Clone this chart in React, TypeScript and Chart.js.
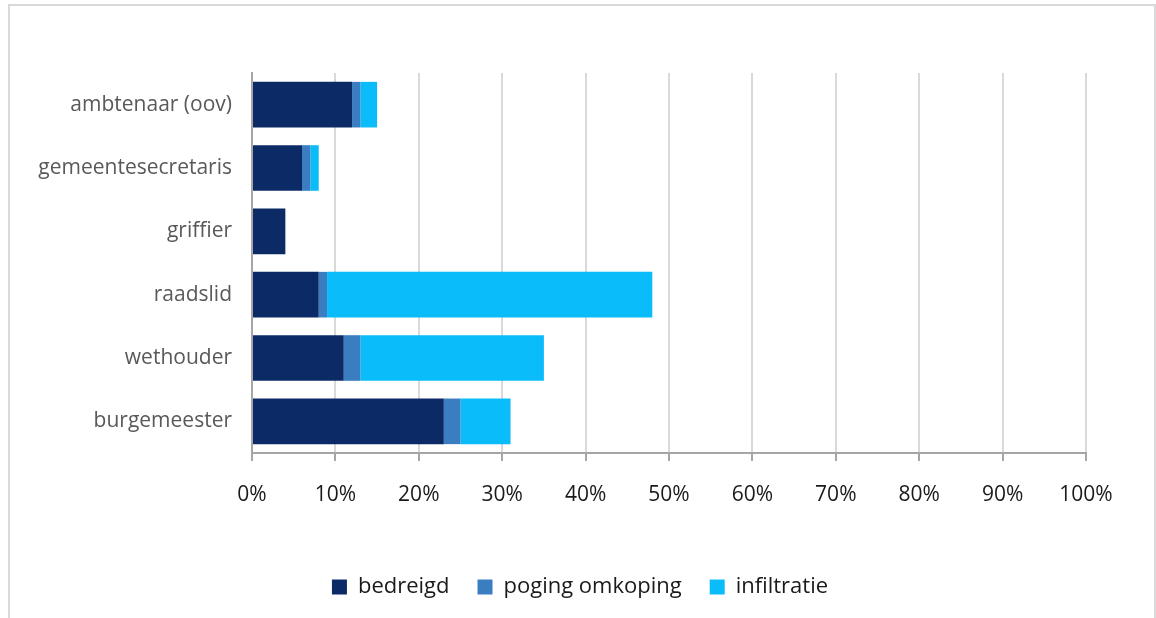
import React, { useEffect, useRef } from "react";
import { Chart, registerables } from "chart.js";

Chart.register(...registerables);

const categories = ["ambtenaar (oov)", "gemeentesecretaris", "griffier", "raadslid", "wethouder", "burgemeester"];
const bedreigd = [12, 6, 4, 8, 11, 23];
const pogingOmkoping = [1, 1, 0, 1, 2, 2];
const infiltratie = [2, 1, 0, 39, 22, 6];
const seriesNames = ["bedreigd", "poging omkoping", "infiltratie"];
const seriesColors = ["#0C2A66", "#3A7DC0", "#0ABCFA"];
const xTicks = [0, 10, 20, 30, 40, 50, 60, 70, 80, 90, 100];

const FONT = "'Open Sans', Lato, sans-serif";

const shiftLegend = {
  id: "shiftLegend",
  afterLayout(chart: any) {
    const l = chart.legend;
    if (l) {
      l.left += 32;
      l.right += 32;
    }
  },
};

export default function App() {
  const ref = useRef<HTMLCanvasElement | null>(null);
  useEffect(() => {
    if (!ref.current) return;
    const chart = new Chart(ref.current, {
      type: "bar",
      data: {
        labels: categories,
        datasets: [bedreigd, pogingOmkoping, infiltratie].map((d, i) => ({
          label: seriesNames[i],
          data: d,
          backgroundColor: seriesColors[i],
          borderWidth: 0,
          barPercentage: 0.72,
          categoryPercentage: 1,
        })),
      },
      plugins: [shiftLegend],
      options: {
        indexAxis: "y",
        animation: false,
        responsive: false,
        maintainAspectRatio: false,
        layout: { padding: { top: 67, right: 66, left: 0, bottom: 10 } },
        scales: {
          x: {
            stacked: true,
            min: 0,
            max: 100,
            afterBuildTicks: (scale: any) => {
              scale.ticks = xTicks.map((v) => ({ value: v }));
            },
            afterFit: (scale: any) => {
              scale.height = 95;
            },
            ticks: {
              callback: (v: any) => v + "%",
              color: "#1a1a1a",
              font: { family: FONT, size: 21 },
              padding: 21,
              maxRotation: 0,
            },
            grid: {
              color: "#d9d9d9",
              lineWidth: 2,
              tickColor: "#a6a6a6",
              tickLength: 8,
              drawTicks: true,
            },
            border: { color: "#a6a6a6", width: 2 },
          },
          y: {
            stacked: true,
            afterFit: (scale: any) => {
              scale.width = 242;
            },
            ticks: {
              color: "#595959",
              font: { family: FONT, size: 21 },
              padding: 20,
            },
            grid: { display: false, drawTicks: false },
            border: { color: "#a6a6a6", width: 2 },
          },
        },
        plugins: {
          legend: {
            position: "bottom",
            labels: {
              boxWidth: 15,
              boxHeight: 15,
              color: "#1a1a1a",
              font: { family: FONT, size: 22 },
              padding: 28,
            },
          },
          tooltip: { enabled: false },
        },
      },
    });
    return () => chart.destroy();
  }, []);
  return (
    <div
      style={{
        position: "absolute",
        left: 8,
        top: 4,
        width: 1144,
        height: 640,
        border: "2px solid #d9d9d9",
        background: "#fff",
      }}
    >
      <canvas ref={ref} width={1142} height={612} style={{ display: "block" }} />
    </div>
  );
}
